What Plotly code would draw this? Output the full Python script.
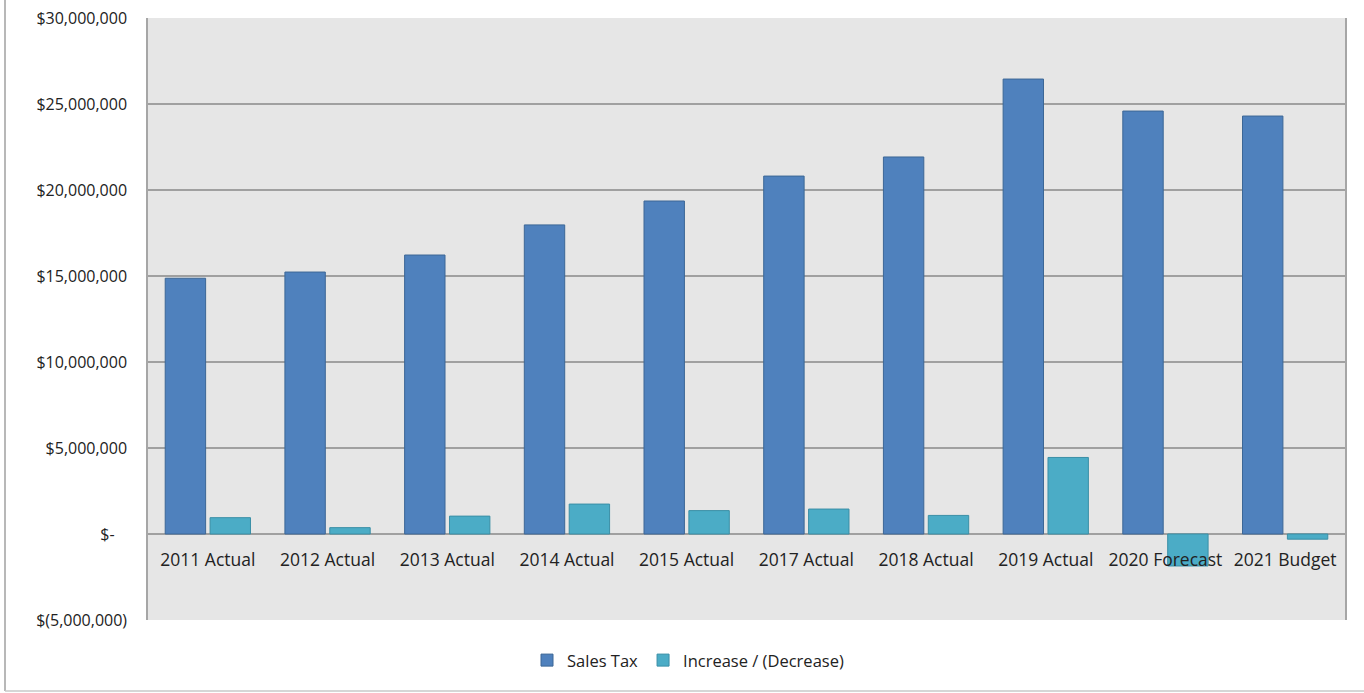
import plotly.graph_objects as go

categories = ["2011 Actual", "2012 Actual", "2013 Actual", "2014 Actual", "2015 Actual",
              "2017 Actual", "2018 Actual", "2019 Actual", "2020 Forecast", "2021 Budget"]
sales_tax = [14870000, 15230000, 16220000, 17970000, 19360000,
             20810000, 21920000, 26450000, 24590000, 24300000]
increase = [950000, 370000, 1040000, 1740000, 1360000,
            1450000, 1080000, 4450000, -1860000, -300000]

tick_vals = [-5000000, 0, 5000000, 10000000, 15000000, 20000000, 25000000, 30000000]
tick_text = ["$(5,000,000)", "$-   ", "$5,000,000", "$10,000,000", "$15,000,000",
             "$20,000,000", "$25,000,000", "$30,000,000"]

FONT = "Open Sans"
FS_Y = 16
FS_X = 17.5

fig = go.Figure()
fig.add_trace(go.Bar(
    x=categories, y=sales_tax, name="Sales Tax",
    marker=dict(color="#4F81BD", line=dict(color="#3C6796", width=1)),
))
fig.add_trace(go.Bar(
    x=categories, y=increase, name="Increase / (Decrease)",
    marker=dict(color="#4BACC6", line=dict(color="#3A8FA6", width=1)),
))

fig.update_layout(
    width=1364, height=693,
    margin=dict(l=148, r=19, t=18, b=73, autoexpand=False),
    paper_bgcolor="white",
    plot_bgcolor="#E6E6E6",
    barmode="group",
    bargap=0.25,
    bargroupgap=0.1,
    font=dict(family=FONT, size=FS_X, color="#222222"),
    showlegend=True,
    legend=dict(orientation="h", x=(688 - 148) / 1197, xanchor="center", y=-0.038, yanchor="top",
                bgcolor="rgba(0,0,0,0)",
                font=dict(family=FONT, size=16.5, color="#222222"),
                itemwidth=30, traceorder="normal"),
    xaxis=dict(
        type="category", automargin=False,
        anchor="free", position=5 / 35,
        showgrid=False, showline=False, zeroline=False,
        ticks="", ticklabelstandoff=13,
        tickfont=dict(family=FONT, size=FS_X, color="#222222"),
    ),
    yaxis=dict(
        range=[-5000000, 30000000], automargin=False,
        tickvals=tick_vals, ticktext=tick_text,
        showgrid=True, gridcolor="#A0A0A0", gridwidth=1.5,
        zeroline=True, zerolinecolor="#A0A0A0", zerolinewidth=1.5,
        showline=True, linecolor="#A6A6A6", linewidth=1.5, mirror=True,
        ticks="", ticklabelstandoff=16,
        tickfont=dict(family=FONT, size=FS_Y, color="#222222"),
    ),
    shapes=[
        dict(type="line", xref="paper", yref="paper",
             x0=(5 - 148) / 1197, x1=(5 - 148) / 1197, y0=1 + 18 / 602, y1=-(691 - 620) / 602,
             line=dict(color="#A0A0A0", width=1.5)),
        dict(type="line", xref="paper", yref="paper",
             x0=(5 - 148) / 1197, x1=(1364 - 148) / 1197, y0=-(691 - 620) / 602, y1=-(691 - 620) / 602,
             line=dict(color="#C8C8C8", width=1.5)),
    ],
)

fig.write_html("out.html", config={"displayModeBar": False},
               post_script="document.body.style.margin='0';document.body.style.overflow='hidden';")
